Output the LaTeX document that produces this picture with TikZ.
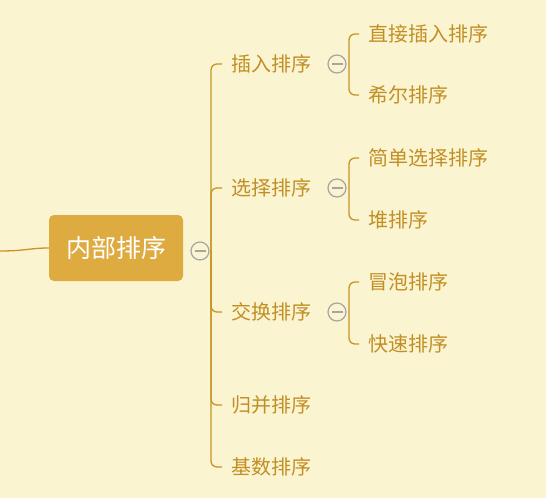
\documentclass[tikz,border=0pt]{standalone}
\usepackage{fontspec}
\newfontfamily\cjk{Noto Sans CJK SC}
\usetikzlibrary{positioning}
\definecolor{paper}{RGB}{251,244,208}
\definecolor{rootgold}{RGB}{222,171,64}
\definecolor{linegold}{RGB}{200,148,40}
\definecolor{textgold}{RGB}{193,143,37}
\definecolor{togglegray}{RGB}{165,165,165}

\begin{document}
\begin{tikzpicture}[x=1pt,y=-1pt,
  root/.style={rectangle,rounded corners=5pt,fill=rootgold,text=white,
               minimum width=134pt,minimum height=66pt,
               font=\cjk\fontsize{25}{25}\selectfont},
  topic/.style={anchor=west,text=textgold,inner xsep=9pt,inner ysep=0pt,
                font=\cjk\fontsize{20}{20}\selectfont},
  toggle/.style={circle,draw=togglegray,line width=1.2pt,fill=paper,
                 minimum size=18pt,inner sep=0pt,
                 path picture={\draw[togglegray,line width=1.2pt]
                   ([xshift=-5.5pt]path picture bounding box.center) --
                   ([xshift=5.5pt]path picture bounding box.center);}},
  branch/.style={draw=linegold,line width=1.3pt,rounded corners=6pt},
]
\fill[paper] (0,0) rectangle (546,498);
\useasboundingbox (0,0) rectangle (546,498);

% Root topic
\node[root] (sort) at (116,248) {内部排序};
\coordinate (in) at (0,251);
\draw[branch] (in) .. controls (25,251) and (30,248) .. (sort.west);

% Main branches
\node[topic] (ins) at (222,64)  {插入排序};
\node[topic] (sel) at (222,188) {选择排序};
\node[topic] (swp) at (222,312) {交换排序};
\node[topic] (mrg) at (222,405) {归并排序};
\node[topic] (rdx) at (222,467) {基数排序};

% Sub topics
\node[topic] (ins1) at (359,34)  {直接插入排序};
\node[topic] (ins2) at (359,95)  {希尔排序};
\node[topic] (sel1) at (359,158) {简单选择排序};
\node[topic] (sel2) at (359,220) {堆排序};
\node[topic] (swp1) at (359,282) {冒泡排序};
\node[topic] (swp2) at (359,344) {快速排序};

% Connectors
\coordinate (s0) at (211,251);
\foreach \c in {ins,sel,swp,mrg,rdx}
  \draw[branch] (s0) |- (\c.west);
\coordinate (s1) at (349,64);
\coordinate (s2) at (349,188);
\coordinate (s3) at (349,312);
\draw[branch] (s1) |- (ins1.west);
\draw[branch] (s1) |- (ins2.west);
\draw[branch] (s2) |- (sel1.west);
\draw[branch] (s2) |- (sel2.west);
\draw[branch] (s3) |- (swp1.west);
\draw[branch] (s3) |- (swp2.west);

% Collapse toggles
\node[toggle] (t0) at (200,251) {};
\node[toggle] (t1) at (337,64)  {};
\node[toggle] (t2) at (337,188) {};
\node[toggle] (t3) at (337,312) {};
\end{tikzpicture}
\end{document}
